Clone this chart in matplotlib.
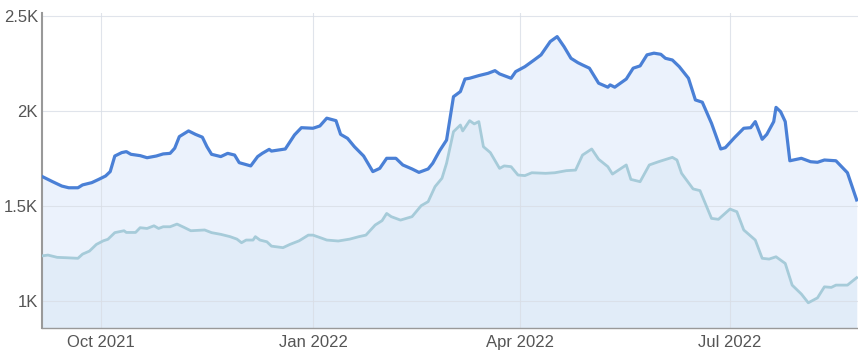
import matplotlib
matplotlib.use("Agg")
import matplotlib.pyplot as plt
import matplotlib.dates as mdates
import pandas as pd

# Upper series (dark blue)
upper_dates = [
    "2021-09-05", "2021-09-10", "2021-09-14", "2021-09-17", "2021-09-21", "2021-09-23",
    "2021-09-27", "2021-09-30", "2021-10-03", "2021-10-05", "2021-10-07", "2021-10-10",
    "2021-10-12", "2021-10-14", "2021-10-18", "2021-10-21", "2021-10-25", "2021-10-28",
    "2021-10-31", "2021-11-02", "2021-11-04", "2021-11-08", "2021-11-11", "2021-11-14",
    "2021-11-16", "2021-11-18", "2021-11-22", "2021-11-25", "2021-11-28", "2021-11-30",
    "2021-12-05", "2021-12-08", "2021-12-10", "2021-12-13", "2021-12-14", "2021-12-20",
    "2021-12-24", "2021-12-27", "2022-01-01", "2022-01-04", "2022-01-07", "2022-01-11",
    "2022-01-13", "2022-01-16", "2022-01-19", "2022-01-23", "2022-01-27", "2022-01-30",
    "2022-02-02", "2022-02-06", "2022-02-09", "2022-02-13", "2022-02-16", "2022-02-20",
    "2022-02-22", "2022-02-25", "2022-02-28", "2022-03-03", "2022-03-06", "2022-03-08",
    "2022-03-10", "2022-03-14", "2022-03-18", "2022-03-21", "2022-03-23", "2022-03-28",
    "2022-03-30", "2022-04-03", "2022-04-07", "2022-04-10", "2022-04-12", "2022-04-14",
    "2022-04-17", "2022-04-20", "2022-04-23", "2022-04-26", "2022-04-28", "2022-05-01",
    "2022-05-05", "2022-05-09", "2022-05-10", "2022-05-12", "2022-05-17", "2022-05-20",
    "2022-05-23", "2022-05-26", "2022-05-29", "2022-06-01", "2022-06-03", "2022-06-06",
    "2022-06-09", "2022-06-13", "2022-06-16", "2022-06-19", "2022-06-23", "2022-06-27",
    "2022-06-29", "2022-07-03", "2022-07-07", "2022-07-10", "2022-07-12", "2022-07-15",
    "2022-07-17", "2022-07-20", "2022-07-21", "2022-07-23", "2022-07-25", "2022-07-27",
    "2022-08-01", "2022-08-05", "2022-08-08", "2022-08-11", "2022-08-16", "2022-08-21",
    "2022-08-25",
]
upper_values = [
    1658, 1628, 1605, 1596, 1596, 1611,
    1623, 1640, 1658, 1681, 1763, 1781,
    1786, 1772, 1765, 1754, 1763, 1774,
    1777, 1804, 1865, 1895, 1877, 1862,
    1812, 1772, 1760, 1777, 1768, 1728,
    1711, 1760, 1777, 1798, 1789, 1800,
    1874, 1912, 1909, 1921, 1962, 1949,
    1877, 1856, 1812, 1763, 1681, 1698,
    1751, 1751, 1716, 1695, 1677, 1695,
    1725, 1791, 1847, 2075, 2102, 2168,
    2172, 2186, 2198, 2212, 2195, 2172,
    2207, 2233, 2268, 2295, 2330, 2365,
    2391, 2338, 2277, 2254, 2242, 2225,
    2146, 2125, 2137, 2125, 2168, 2225,
    2237, 2295, 2304, 2298, 2277, 2268,
    2233, 2172, 2058, 2046, 1935, 1800,
    1807, 1860, 1909, 1912, 1944, 1851,
    1877, 1944, 2019, 1996, 1944, 1738,
    1751, 1733, 1730, 1742, 1738, 1675,
    1532,
]

# Lower series (light teal)
lower_dates = [
    "2021-09-05", "2021-09-08", "2021-09-12", "2021-09-16", "2021-09-21", "2021-09-23",
    "2021-09-26", "2021-09-29", "2021-10-02", "2021-10-04", "2021-10-07", "2021-10-11",
    "2021-10-12", "2021-10-16", "2021-10-18", "2021-10-21", "2021-10-24", "2021-10-26",
    "2021-10-28", "2021-10-31", "2021-11-03", "2021-11-06", "2021-11-09", "2021-11-15",
    "2021-11-18", "2021-11-22", "2021-11-26", "2021-11-29", "2021-12-01", "2021-12-03",
    "2021-12-06", "2021-12-07", "2021-12-09", "2021-12-12", "2021-12-14", "2021-12-19",
    "2021-12-22", "2021-12-26", "2021-12-30", "2022-01-01", "2022-01-05", "2022-01-07",
    "2022-01-12", "2022-01-17", "2022-01-21", "2022-01-24", "2022-01-28", "2022-01-31",
    "2022-02-02", "2022-02-04", "2022-02-08", "2022-02-13", "2022-02-17", "2022-02-20",
    "2022-02-23", "2022-02-26", "2022-02-28", "2022-03-03", "2022-03-06", "2022-03-07",
    "2022-03-10", "2022-03-12", "2022-03-14", "2022-03-16", "2022-03-19", "2022-03-23",
    "2022-03-25", "2022-03-28", "2022-03-31", "2022-04-03", "2022-04-06", "2022-04-12",
    "2022-04-16", "2022-04-21", "2022-04-25", "2022-04-28", "2022-05-02", "2022-05-05",
    "2022-05-09", "2022-05-11", "2022-05-17", "2022-05-19", "2022-05-23", "2022-05-27",
    "2022-05-31", "2022-06-06", "2022-06-08", "2022-06-10", "2022-06-15", "2022-06-18",
    "2022-06-23", "2022-06-26", "2022-07-01", "2022-07-04", "2022-07-07", "2022-07-12",
    "2022-07-15", "2022-07-18", "2022-07-21", "2022-07-25", "2022-07-28", "2022-08-01",
    "2022-08-04", "2022-08-08", "2022-08-11", "2022-08-14", "2022-08-16", "2022-08-21",
    "2022-08-25",
]
lower_values = [
    1237, 1242, 1230, 1228, 1225, 1247,
    1263, 1298, 1317, 1325, 1360, 1370,
    1361, 1361, 1386, 1382, 1396, 1382,
    1391, 1391, 1405, 1388, 1370, 1374,
    1360, 1351, 1339, 1326, 1307, 1321,
    1321, 1339, 1321, 1312, 1289, 1281,
    1298, 1317, 1347, 1347, 1330, 1321,
    1316, 1326, 1339, 1347, 1400, 1423,
    1461, 1444, 1426, 1444, 1502, 1523,
    1602, 1646, 1725, 1891, 1926, 1895,
    1949, 1932, 1944, 1812, 1781, 1698,
    1711, 1707, 1663, 1660, 1675, 1672,
    1675, 1686, 1689, 1768, 1800, 1746,
    1707, 1668, 1716, 1640, 1628, 1716,
    1733, 1756, 1742, 1672, 1590, 1581,
    1435, 1430, 1484, 1470, 1374, 1321,
    1225, 1221, 1233, 1198, 1084, 1037,
    991, 1017, 1075, 1072, 1084, 1084,
    1123,
]

y_ticks = [1000, 1500, 2000, 2500]
y_tick_labels = ["1K", "1.5K", "2K", "2.5K"]
x_ticks = ["2021-10-01", "2022-01-01", "2022-04-01", "2022-07-01"]

plt.rcParams["font.family"] = ["Liberation Sans", "DejaVu Sans"]

ud = pd.to_datetime(upper_dates)
ld = pd.to_datetime(lower_dates)

fig = plt.figure(figsize=(8.58, 3.57), dpi=100)
ax = fig.add_axes([0.049, 0.081, 0.951, 0.883])

ymin = 858
ax.fill_between(ud, upper_values, ymin - 100, color="#ebf2fc", linewidth=0, zorder=1)
ax.fill_between(ld, lower_values, ymin - 100, color="#e1ecf8", linewidth=0, zorder=1.1)
ax.plot(ld, lower_values, color="#a6cbd9", linewidth=2.0, zorder=3, solid_joinstyle="round")
ax.plot(ud, upper_values, color="#4a80d6", linewidth=2.3, zorder=3.1, solid_joinstyle="round")

ax.set_xlim(pd.Timestamp("2021-09-05 10:00"), pd.Timestamp("2022-08-25 14:00"))
ax.set_ylim(ymin, 2516)

ax.set_yticks(y_ticks)
ax.set_yticklabels(y_tick_labels)
ax.set_xticks(pd.to_datetime(x_ticks))
ax.xaxis.set_major_formatter(mdates.DateFormatter("%b %Y"))

ax.set_axisbelow("line")
ax.grid(True, color="#d9dee6", linewidth=0.8, alpha=0.8)
ax.tick_params(axis="both", length=0, labelsize=12, labelcolor="#555555")
ax.tick_params(axis="y", pad=3)
ax.tick_params(axis="x", pad=5)

for s in ["top", "right"]:
    ax.spines[s].set_visible(False)
ax.spines["left"].set_color("#999999")
ax.spines["left"].set_linewidth(1.5)
ax.spines["bottom"].set_color("#999999")
ax.spines["bottom"].set_linewidth(1.0)
ax.patch.set_facecolor("white")

fig.savefig("out.png", dpi=100)
